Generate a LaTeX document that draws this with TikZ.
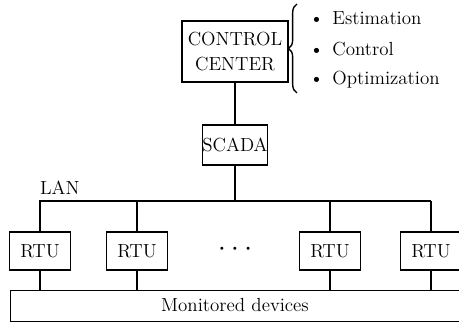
\documentclass[tikz,border=0pt]{standalone}
\usetikzlibrary{decorations.pathreplacing}
\newcommand\pxu{0.58pt}
\newcommand\smalldot{\makebox[7.6pt]{\scalebox{0.6}{\textbullet}}}
\tikzset{
  every node/.style={font=\fontsize{11pt}{13pt}\selectfont},
  box/.style={draw, line width=0.7pt, inner sep=0pt, align=center},
  conn/.style={line width=0.6pt},
}
\begin{document}
\begin{tikzpicture}[x=0.58pt,y=-0.58pt]
\useasboundingbox (0,0) rectangle (459,322);
% control center
\node[box, minimum width=106*\pxu, minimum height=61*\pxu] (cc) at (235,51.5) {CONTROL\\[1pt]CENTER};
\node[box, minimum width=64*\pxu, minimum height=40*\pxu] (scada) at (235,145) {SCADA};
% brace and bullets
\draw[line width=0.8pt, decorate, decoration={brace, amplitude=5pt}] (297,93) -- (297,4);
\node[anchor=west, inner sep=0pt] (b1) at (309,18) {\textbullet\hspace{5pt}Estimation};
\node[anchor=west, inner sep=0pt] (b2) at (309,49) {\textbullet\hspace{5pt}Control};
\node[anchor=west, inner sep=0pt] (b3) at (309,80) {\textbullet\hspace{5pt}Optimization};
% bus
\coordinate (busL) at (39,201);
\coordinate (busR) at (431,201);
\coordinate (busM) at (235,201);
\node[anchor=south west, inner sep=1pt] (lan) at (38,197) {LAN};
% RTUs
\foreach \n/\x in {r1/40, r2/137, r3/330, r4/431}{
  \node[box, minimum width=61*\pxu, minimum height=38*\pxu] (\n) at (\x,251) {RTU};
}
\node[inner sep=0pt] (dots) at (235,249) {\smalldot\smalldot\smalldot};
% monitored devices
\node[box, minimum width=456*\pxu, minimum height=31*\pxu, anchor=north west] (mon) at (10,290) {};
\node (montext) at (235,305.5) {Monitored devices};
% connections
\draw[conn] (cc.south) -- (scada.north);
\draw[conn] (scada.south) -- (busM);
\draw[conn] (busL) -- (busR);
\foreach \n in {r1,r2,r3,r4}{
  \draw[conn] (\n.north) -- (\n.north |- busL);
  \draw[conn] (\n.south) -- (\n.south |- mon.north);
}
\end{tikzpicture}
\end{document}
